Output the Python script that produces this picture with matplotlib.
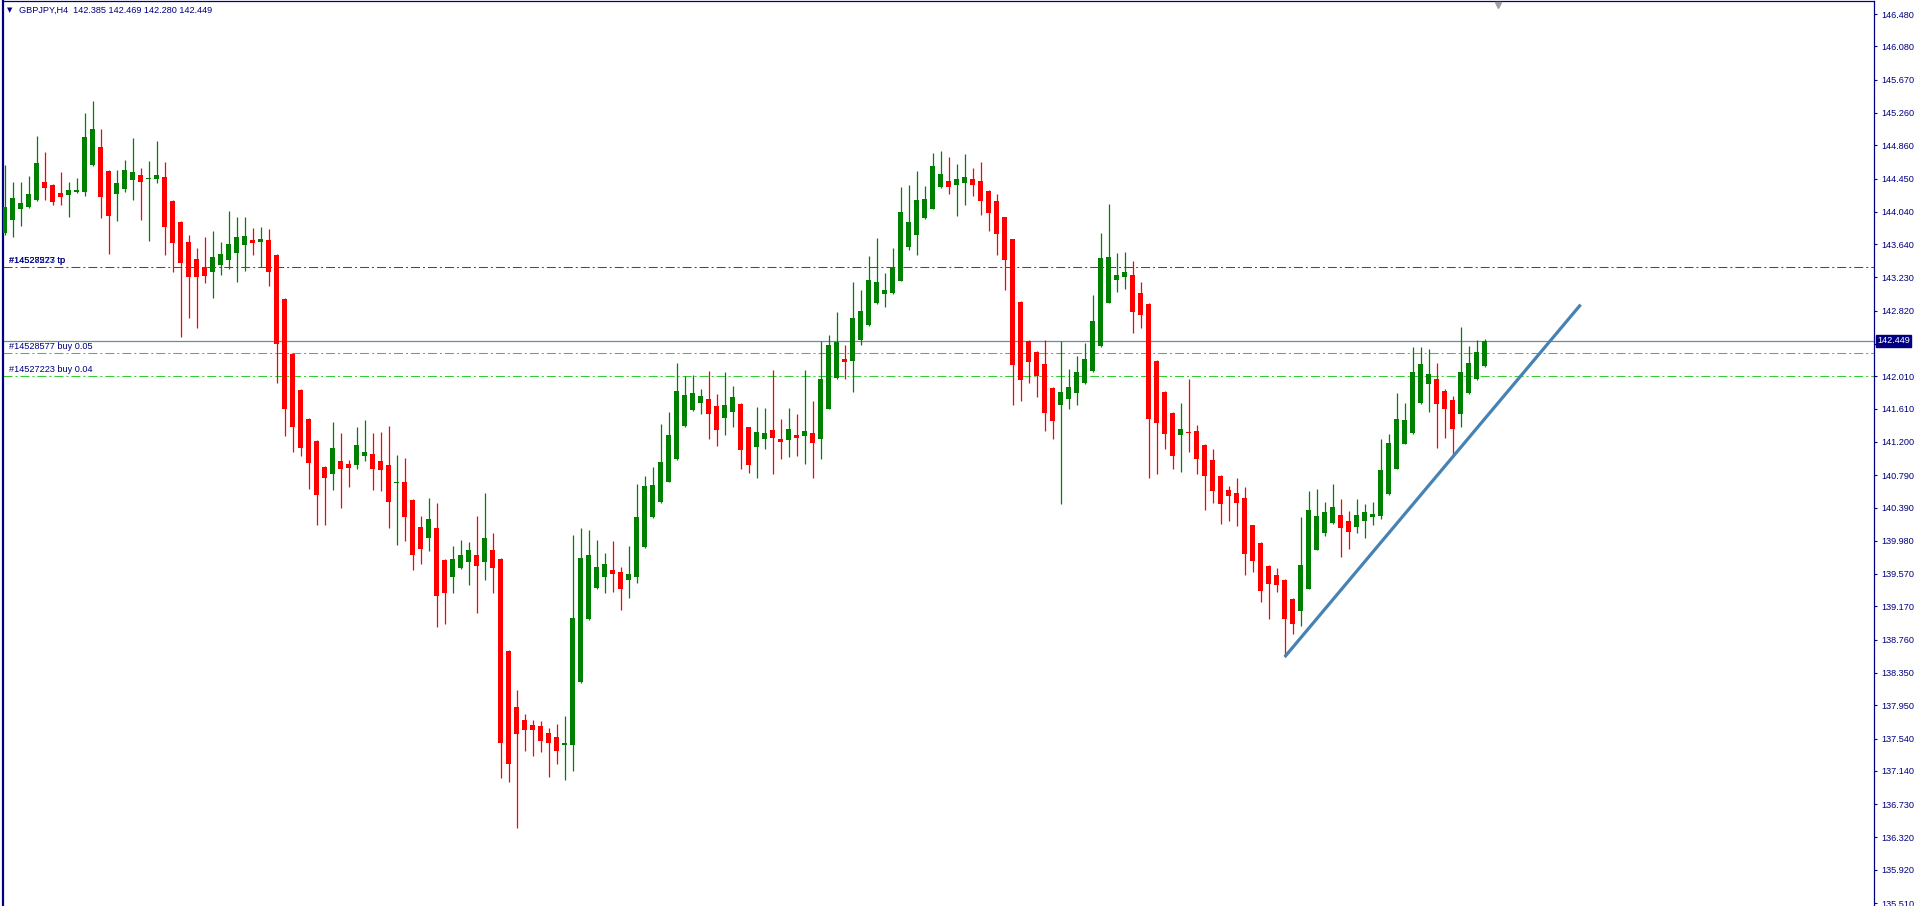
import matplotlib
matplotlib.use("Agg")
import matplotlib.pyplot as plt
import numpy as np

plt.rcParams['font.family'] = ['Liberation Sans', 'DejaVu Sans']

# ---- data (GBPJPY H4) --------------------------------------------------
opens = [143.78, 143.94, 144.07, 144.10, 144.18, 144.41, 144.37, 144.27, 144.25, 144.28,
         144.29, 144.62, 144.84, 144.54, 144.26, 144.32, 144.43, 144.49, 144.44, 144.44,
         144.47, 144.17, 143.91, 143.67, 143.46, 143.36, 143.30, 143.38, 143.44, 143.53,
         143.63, 143.69, 143.67, 143.69, 143.51, 142.96, 142.29, 141.84, 141.48, 141.21,
         140.89, 140.81, 140.97, 140.93, 140.91, 141.03, 141.05, 140.97, 140.92, 140.69,
         140.71, 140.48, 140.15, 140.02, 140.14, 139.74, 139.53, 139.64, 139.72, 139.80,
         139.72, 139.87, 139.76, 138.62, 137.93, 137.77, 137.71, 137.69, 137.61, 137.56,
         137.46, 137.46, 138.24, 139.01, 139.40, 139.53, 139.62, 139.60, 139.49, 139.53,
         139.90, 140.27, 140.46, 140.71, 140.99, 141.40, 141.59, 141.68, 141.73, 141.64,
         141.49, 141.57, 141.67, 141.38, 141.14, 141.23, 141.35, 141.23, 141.22, 141.29,
         141.27, 141.31, 141.24, 141.61, 141.99, 142.22, 142.20, 142.46, 142.64, 142.91,
         143.03, 143.04, 143.19, 143.61, 143.75, 143.96, 144.08, 144.34, 144.42, 144.37,
         144.40, 144.44, 144.42, 144.30, 144.17, 143.97, 143.70, 142.93, 142.45, 142.31,
         142.16, 141.87, 141.66, 141.73, 141.80, 141.93, 142.07, 142.38, 142.92, 143.20,
         143.23, 143.26, 143.04, 142.90, 142.20, 141.82, 141.56, 141.29, 141.32, 141.33,
         141.16, 140.98, 140.78, 140.61, 140.57, 140.51, 140.17, 139.95, 139.67, 139.56,
         139.50, 139.26, 139.11, 139.39, 139.87, 140.07, 140.20, 140.30, 140.22, 140.15,
         140.23, 140.27, 140.29, 140.56, 140.87, 141.18, 141.31, 141.68, 141.92, 141.98,
         141.83, 141.72, 141.54, 141.80, 141.98, 142.14]
highs = [144.62, 144.41, 144.41, 144.48, 144.97, 144.78, 144.38, 144.53, 144.41, 144.46,
         145.26, 145.41, 145.06, 144.55, 144.56, 144.68, 144.95, 144.58, 144.67, 144.91,
         144.65, 144.18, 143.92, 143.75, 143.59, 143.73, 143.80, 143.67, 144.05, 143.98,
         143.98, 143.84, 143.85, 143.83, 143.52, 142.97, 142.30, 141.85, 141.49, 141.22,
         140.90, 141.45, 141.31, 140.98, 141.38, 141.47, 141.31, 141.32, 141.40, 141.04,
         141.00, 140.49, 140.29, 140.51, 140.44, 139.75, 139.92, 139.99, 139.96, 140.28,
         140.57, 140.07, 139.77, 138.63, 138.14, 137.84, 137.77, 137.76, 137.67, 137.72,
         137.82, 140.05, 140.14, 140.11, 139.99, 139.83, 139.98, 139.66, 139.92, 140.68,
         140.78, 140.89, 141.42, 141.57, 142.17, 142.01, 142.03, 141.85, 142.08, 141.79,
         142.06, 141.89, 141.68, 141.39, 141.63, 141.62, 142.09, 141.48, 141.62, 141.54,
         142.09, 141.70, 142.44, 142.52, 142.80, 142.39, 143.17, 143.08, 143.49, 143.72,
         143.28, 143.59, 144.35, 144.37, 144.54, 144.36, 144.77, 144.79, 144.72, 144.63,
         144.75, 144.58, 144.65, 144.31, 144.26, 143.98, 143.71, 142.94, 142.46, 142.32,
         142.46, 141.88, 142.45, 142.10, 142.26, 142.42, 143.01, 143.78, 144.14, 143.53,
         143.54, 143.43, 143.17, 142.91, 142.21, 141.83, 141.57, 141.68, 141.98, 141.41,
         141.17, 141.11, 140.79, 140.65, 140.76, 140.64, 140.18, 139.96, 139.68, 139.65,
         139.51, 139.27, 140.27, 140.59, 140.62, 140.46, 140.68, 140.50, 140.35, 140.50,
         140.43, 140.46, 141.24, 141.30, 141.80, 141.68, 142.37, 142.37, 142.35, 142.17,
         141.85, 141.77, 142.62, 142.38, 142.46, 142.469]
lows = [143.75, 143.73, 143.86, 144.09, 144.17, 144.19, 144.12, 144.12, 143.97, 144.27,
        144.23, 144.61, 143.96, 143.52, 143.92, 144.28, 144.18, 143.94, 143.68, 144.39,
        143.51, 143.30, 142.50, 142.73, 142.61, 143.16, 142.97, 143.26, 143.33, 143.17,
        143.31, 143.51, 143.36, 143.12, 141.93, 141.27, 141.07, 141.03, 140.62, 140.18,
        140.17, 140.61, 140.38, 140.64, 140.86, 140.97, 140.61, 140.59, 140.14, 139.93,
        139.98, 139.62, 139.69, 139.85, 138.91, 138.95, 139.34, 139.63, 139.43, 139.09,
        139.49, 139.33, 137.05, 137.00, 136.44, 137.39, 137.33, 137.37, 137.07, 137.22,
        137.03, 137.14, 138.23, 139.00, 139.39, 139.34, 139.35, 139.12, 139.27, 139.46,
        139.89, 140.26, 140.45, 140.70, 140.98, 141.39, 141.58, 141.55, 141.24, 141.15,
        141.28, 141.38, 140.87, 140.82, 140.75, 141.11, 140.81, 140.99, 141.01, 141.03,
        140.93, 140.76, 140.99, 141.60, 141.98, 141.98, 141.82, 142.40, 142.63, 142.90,
        142.87, 143.03, 143.18, 143.57, 143.51, 143.95, 144.07, 144.33, 144.26, 143.99,
        144.12, 144.23, 144.00, 143.80, 143.51, 143.08, 141.66, 141.70, 141.93, 141.75,
        141.33, 141.24, 140.43, 141.60, 141.65, 141.92, 142.06, 142.37, 142.91, 143.05,
        143.09, 142.54, 142.61, 140.75, 140.80, 141.11, 140.87, 140.83, 141.08, 140.81,
        140.36, 140.44, 140.19, 140.22, 140.16, 139.56, 139.60, 139.22, 139.02, 139.35,
        138.54, 138.83, 138.93, 139.38, 139.86, 140.04, 140.19, 139.78, 139.88, 140.07,
        140.02, 140.17, 140.25, 140.55, 140.86, 141.17, 141.30, 141.67, 141.57, 141.13,
        141.25, 141.03, 141.38, 141.79, 141.97, 142.13]
closes = [144.10, 144.21, 144.15, 144.26, 144.64, 144.33, 144.16, 144.22, 144.31, 144.31,
          144.96, 145.06, 144.22, 143.99, 144.39, 144.56, 144.53, 144.41, 144.46, 144.49,
          143.85, 143.65, 143.41, 143.24, 143.24, 143.25, 143.48, 143.52, 143.64, 143.73,
          143.74, 143.65, 143.70, 143.30, 142.41, 141.61, 141.38, 141.12, 140.94, 140.55,
          140.75, 141.13, 140.87, 140.88, 141.16, 141.08, 140.87, 140.85, 140.46, 140.71,
          140.27, 139.81, 139.88, 140.25, 139.30, 139.34, 139.76, 139.81, 139.86, 139.67,
          140.01, 139.64, 137.49, 137.23, 137.59, 137.64, 137.65, 137.51, 137.49, 137.38,
          137.48, 139.03, 139.77, 139.81, 139.66, 139.69, 139.57, 139.38, 139.57, 140.27,
          140.66, 140.67, 140.95, 141.29, 141.83, 141.78, 141.80, 141.77, 141.54, 141.35,
          141.66, 141.75, 141.10, 140.91, 141.32, 141.31, 141.25, 141.20, 141.36, 141.25,
          141.34, 141.19, 141.98, 142.39, 142.43, 142.19, 142.73, 142.81, 143.20, 143.17,
          143.07, 143.36, 144.04, 143.91, 144.18, 144.20, 144.60, 144.51, 144.34, 144.44,
          144.47, 144.37, 144.17, 144.02, 143.76, 143.44, 142.15, 141.96, 142.18, 142.01,
          141.56, 141.46, 141.82, 141.88, 142.06, 142.22, 142.69, 143.47, 143.48, 143.26,
          143.30, 142.80, 142.77, 141.48, 141.43, 141.30, 141.03, 141.36, 141.31, 140.99,
          140.78, 140.59, 140.43, 140.53, 140.44, 139.82, 139.73, 139.36, 139.45, 139.43,
          139.02, 138.95, 139.68, 140.36, 140.29, 140.34, 140.40, 140.14, 140.09, 140.30,
          140.33, 140.31, 140.85, 141.19, 141.48, 141.47, 142.06, 142.16, 142.04, 141.67,
          141.61, 141.36, 142.06, 142.17, 142.31, 142.449]

header = "GBPJPY,H4  142.385 142.469 142.280 142.449"
bid = 142.449

price_ticks = [146.480, 146.080, 145.670, 145.260, 144.860, 144.450, 144.040, 143.640,
               143.230, 142.820, 142.410, 142.010, 141.610, 141.200, 140.790, 140.390,
               139.980, 139.570, 139.170, 138.760, 138.350, 137.950, 137.540, 137.140,
               136.730, 136.320, 135.920, 135.510]

tp_level = 143.354
tp_labels = ["#14528577 tp", "#14527223 tp"]
buy_levels = [142.293, 142.013]
buy_labels = ["#14528577 buy 0.05", "#14527223 buy 0.04"]

trend_x = [160, 197]
trend_y = [138.546, 142.894]

# ---- figure ----------------------------------------------------------------
W, H = 1918, 906
fig = plt.figure(figsize=(W / 100, H / 100), dpi=100)
fig.patch.set_facecolor("white")
ax = fig.add_axes([3 / W, 0, (1874 - 3) / W, 905 / H])

navy = "#000080"
n = len(opens)
idx = np.arange(n)
o = np.array(opens); c = np.array(closes)
hi = np.array(highs); lo = np.array(lows)
up = c >= o
body_lo = np.minimum(o, c)
body_h = np.maximum(np.abs(c - o), 0.012)
cols = np.where(up, "#008000", "#ff0000")

ax.vlines(idx, lo, hi, colors=cols, linewidth=0.9, zorder=3)
ax.bar(idx, body_h, bottom=body_lo, width=0.62, color=cols, linewidth=0,
       zorder=4, antialiased=False)

# order lines
dd = (0, (8.6, 2.9, 1.9, 2.9))
ax.axhline(tp_level, color="#ff0000", lw=0.75, linestyle=dd, zorder=2)
for lv in buy_levels:
    ax.axhline(lv, color="#32cd32", lw=0.75, linestyle=dd, zorder=2)
ax.axhline(bid, color="#778899", lw=0.9, zorder=2)

xlab = 0.5
for t in tp_labels:
    ax.text(xlab, tp_level + 0.025, t, fontsize=6.6, color=navy, va="bottom", ha="left")
for lv, t in zip(buy_levels, buy_labels):
    ax.text(xlab, lv + 0.025, t, fontsize=6.6, color=navy, va="bottom", ha="left")

# trend line
ax.plot(trend_x, trend_y, color="#4682b4", lw=2.3, solid_capstyle="butt", zorder=5)

# chart shift marker
ax.plot([186.7], [0.996], marker="v", markersize=5, color="#a0a0a0",
        transform=ax.get_xaxis_transform(), clip_on=False, zorder=6)

ax.set_xlim(-0.21, 233.67)
ax.set_ylim(135.473, 146.641)
ax.set_xticks([])

ax.yaxis.tick_right()
ax.set_yticks(price_ticks)
ax.set_yticklabels(["" if abs(p - 142.41) < 1e-6 else f"{p:.3f}" for p in price_ticks])
ax.tick_params(axis="y", direction="out", length=2.5, width=0.8, color=navy,
               labelcolor=navy, labelsize=6.6, pad=3)

for s in ["left", "top", "right"]:
    ax.spines[s].set_color(navy)
ax.spines["left"].set_linewidth(1.6)
ax.spines["top"].set_linewidth(0.9)
ax.spines["right"].set_linewidth(0.9)
ax.spines["bottom"].set_visible(False)

# bid price label on the axis
ax.text(1.0017, bid, f"{bid:.3f}", transform=ax.get_yaxis_transform(),
        fontsize=6.6, color="white", va="center", ha="left", zorder=10,
        bbox=dict(boxstyle="square,pad=0.15", facecolor=navy, edgecolor=navy),
        clip_on=False)

# header
fig.text(7 / W, 1 - 10 / H, "\u25bc", fontsize=5, color=navy, va="center",
         ha="left", family="DejaVu Sans")
fig.text(19 / W, 1 - 10 / H, header, fontsize=6.6, color=navy, va="center", ha="left")

fig.savefig("out.png", dpi=100, facecolor="white")
